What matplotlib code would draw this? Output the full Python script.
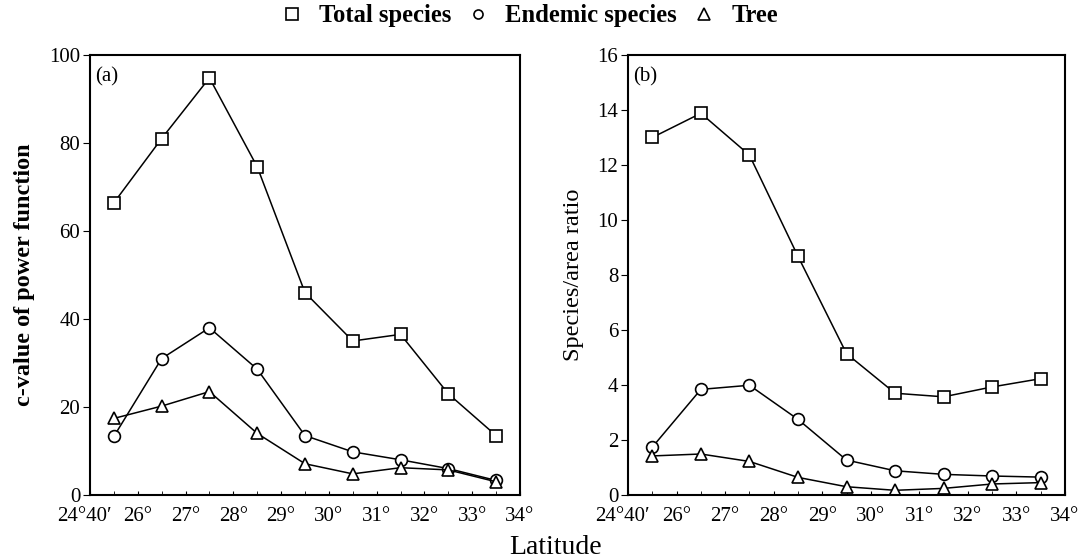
"""Latitudinal pattern of c-value and species/area ratio (two panels)."""

import matplotlib
matplotlib.use("Agg")
import matplotlib.pyplot as plt
import matplotlib.transforms as mtransforms
from matplotlib.lines import Line2D
from matplotlib.ticker import MultipleLocator

plt.rcParams["font.family"] = ["Liberation Serif", "DejaVu Serif"]

LAT_LABELS = ["24°40′", "26°", "27°", "28°", "29°", "30°", "31°", "32°", "33°", "34°"]
BAND_POS = [0.5, 1.5, 2.5, 3.5, 4.5, 5.5, 6.5, 7.5, 8.5]

C_TOTAL = [66.4, 81.0, 94.8, 74.6, 46.0, 35.0, 36.5, 23.0, 13.5]
C_ENDEMIC = [13.3, 31.0, 38.0, 28.6, 13.5, 9.8, 8.0, 6.0, 3.3]
C_TREE = [17.4, 20.2, 23.5, 14.0, 7.1, 4.8, 6.2, 5.7, 3.0]

R_TOTAL = [13.0, 13.88, 12.36, 8.68, 5.14, 3.70, 3.57, 3.93, 4.23]
R_ENDEMIC = [1.74, 3.84, 3.99, 2.75, 1.27, 0.88, 0.75, 0.69, 0.65]
R_TREE = [1.42, 1.49, 1.22, 0.64, 0.30, 0.17, 0.24, 0.40, 0.45]

SERIES = [("Total species", "s"), ("Endemic species", "o"), ("Tree", "^")]
MARKER_SIZE = {"s": 8.3, "o": 8.5, "^": 9.0}


def draw_panel(fig, ax, values, ymax, ystep, ylabel, tag, bold_label):
    for vals, (name, marker) in zip(values, SERIES):
        ax.plot(BAND_POS, vals, color="black", lw=1.1, marker=marker,
                markersize=MARKER_SIZE[marker], markerfacecolor="white",
                markeredgecolor="black", markeredgewidth=1.2, label=name)
    ax.set_xlim(0, 9)
    ax.set_ylim(0, ymax)
    ax.set_xticks(range(len(LAT_LABELS)), LAT_LABELS)
    ax.xaxis.set_minor_locator(MultipleLocator(0.5))
    ax.yaxis.set_major_locator(MultipleLocator(ystep))
    ax.tick_params(axis="x", which="both", direction="in", length=3, labelsize=15, pad=9)
    ax.tick_params(axis="y", direction="out", length=5, labelsize=15, pad=2)
    # first label sits a little left of its tick, as in the original
    first = ax.get_xticklabels()[0]
    first.set_transform(first.get_transform()
                        + mtransforms.ScaledTranslation(-4 / 72, 0, fig.dpi_scale_trans))
    for side in ax.spines.values():
        side.set_linewidth(1.5)
    ax.set_ylabel(ylabel, fontsize=17.5, fontweight="bold" if bold_label else "normal",
                  labelpad=10)
    ax.text(0.012, 0.972, tag, transform=ax.transAxes, fontsize=15, va="top", ha="left")


fig = plt.figure(figsize=(10.89, 5.6), dpi=100)
ax_a = fig.add_axes([0.0826, 0.1161, 0.3949, 0.7857])
ax_b = fig.add_axes([0.5767, 0.1161, 0.4013, 0.7857])

draw_panel(fig, ax_a, [C_TOTAL, C_ENDEMIC, C_TREE], 100, 20, "c-value of power function", "(a)", True)
draw_panel(fig, ax_b, [R_TOTAL, R_ENDEMIC, R_TREE], 16, 2, "Species/area ratio", "(b)", False)

proxies = [Line2D([], [], ls="none", marker=m, markersize=8.5 if m != "o" else 6.5,
                  markerfacecolor="white", markeredgecolor="black", markeredgewidth=1.2)
           for _, m in SERIES]
fig.legend(proxies, [name for name, _ in SERIES], loc="center", bbox_to_anchor=(0.4855, 0.972),
           ncol=3, frameon=False, prop={"weight": "bold", "size": 17.7}, handletextpad=0.6,
           columnspacing=0.6, handlelength=1.0)

fig.text(0.51, 0.023, "Latitude", ha="center", va="center", fontsize=20)

fig.savefig("out.png", dpi=100)
